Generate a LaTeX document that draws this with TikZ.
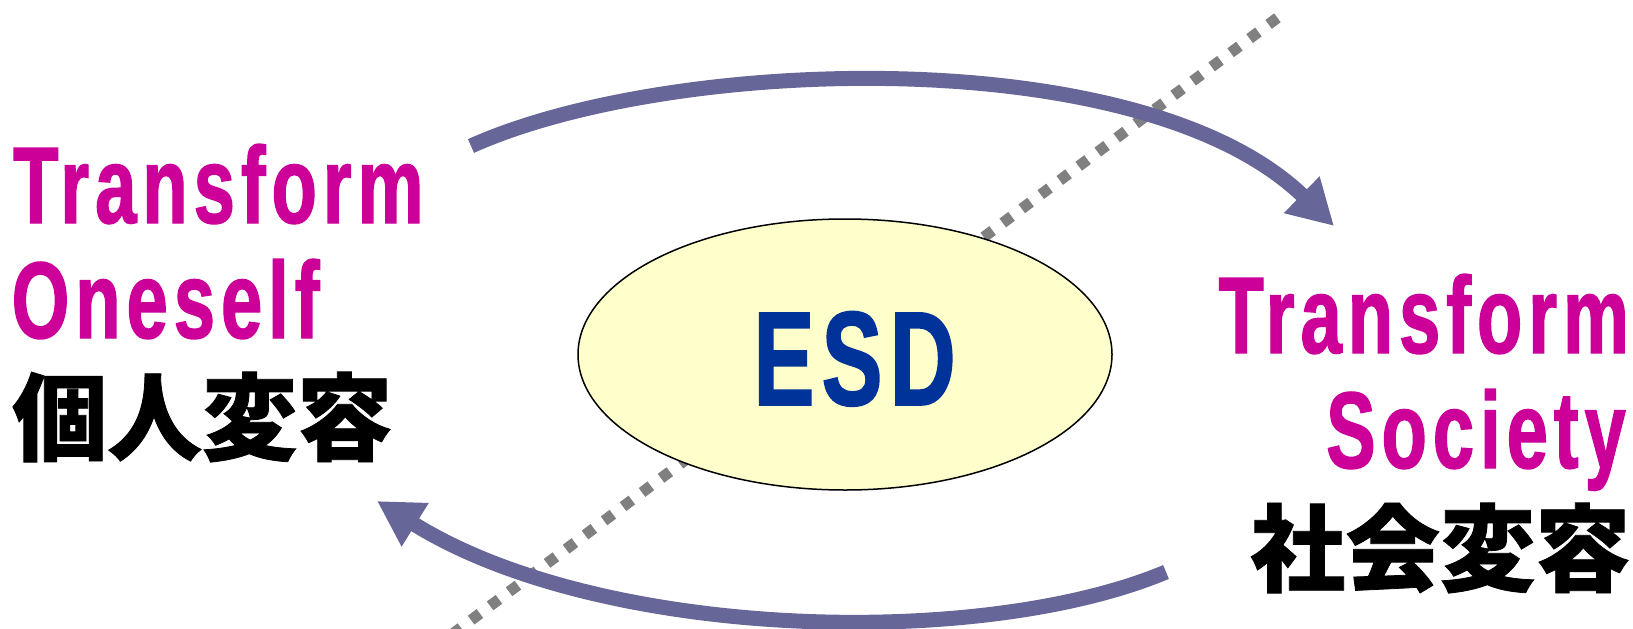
\documentclass[tikz,border=0pt]{standalone}
\usepackage{fontspec}
\setmainfont{Liberation Sans}
\newfontfamily\latf{Liberation Sans}[FakeStretch=0.68,LetterSpace=5.5,FakeBold=1.2]
\newfontfamily\cjkf{Noto Sans CJK JP}[FakeBold=0.8]
\usetikzlibrary{arrows.meta,shapes.geometric}
\definecolor{mag}{HTML}{CC0099}
\definecolor{arrowc}{HTML}{666699}
\definecolor{dotc}{HTML}{808080}
\definecolor{ellfill}{HTML}{FFFFCC}
\definecolor{esdblue}{HTML}{003399}
\begin{document}
\begin{tikzpicture}[x=1pt,y=-1pt,
  entext/.style={inner sep=0pt, text=mag, font=\latf\bfseries\fontsize{109}{120}\selectfont},
  jatext/.style={inner sep=0pt, text=black, font=\cjkf\bfseries\fontsize{95}{108}\selectfont},
  esdtext/.style={inner sep=0pt, text=esdblue, font=\latf\bfseries\fontsize{134}{150}\selectfont},
  cycarrow/.style={draw=arrowc, line width=15pt, -{Triangle[length=45pt,width=48pt]}},
  dotline/.style={draw=dotc, line width=11pt, dash pattern=on 11pt off 12.7pt},
  esdell/.style={draw=black, fill=ellfill, ellipse, line width=1.5pt, inner sep=0pt,
                 minimum width=534pt, minimum height=271pt}
]
\useasboundingbox (0,0) rectangle (1633,629);
% dotted diagonal
\coordinate (dA) at (1277.4,17.8);
\coordinate (dB) at (430,650.8);
\draw[dotline] (dA) -- (dB);
% central ellipse
\node[esdell] (esd) at (845,354.5) {};
\node[esdtext, anchor=base west] (esdlabel) at (753.4,405) {ESD};
% cycle arrows
\coordinate (ua0) at (471,146);
\coordinate (ua3) at (1334,226);
\draw[cycarrow] (ua0) .. controls (671,56) and (1142,40) .. (ua3);
\coordinate (la0) at (1166,572);
\coordinate (la3) at (377,501);
\draw[cycarrow] (la0) .. controls (980,650) and (600,640) .. (la3);
% texts
\node[entext, anchor=base west] (lt1) at (13,223) {Transform};
\node[entext, anchor=base west] (lt2) at (11.5,338) {Oneself};
\node[jatext, anchor=base west] (lt3) at (12,453) {個人変容};
\node[entext, anchor=base west] (rt1) at (1218.4,353) {Transform};
\node[entext, anchor=base west] (rt2) at (1326,468) {Society};
\node[jatext, anchor=base west] (rt3) at (1250,584) {社会変容};
\end{tikzpicture}
\end{document}
